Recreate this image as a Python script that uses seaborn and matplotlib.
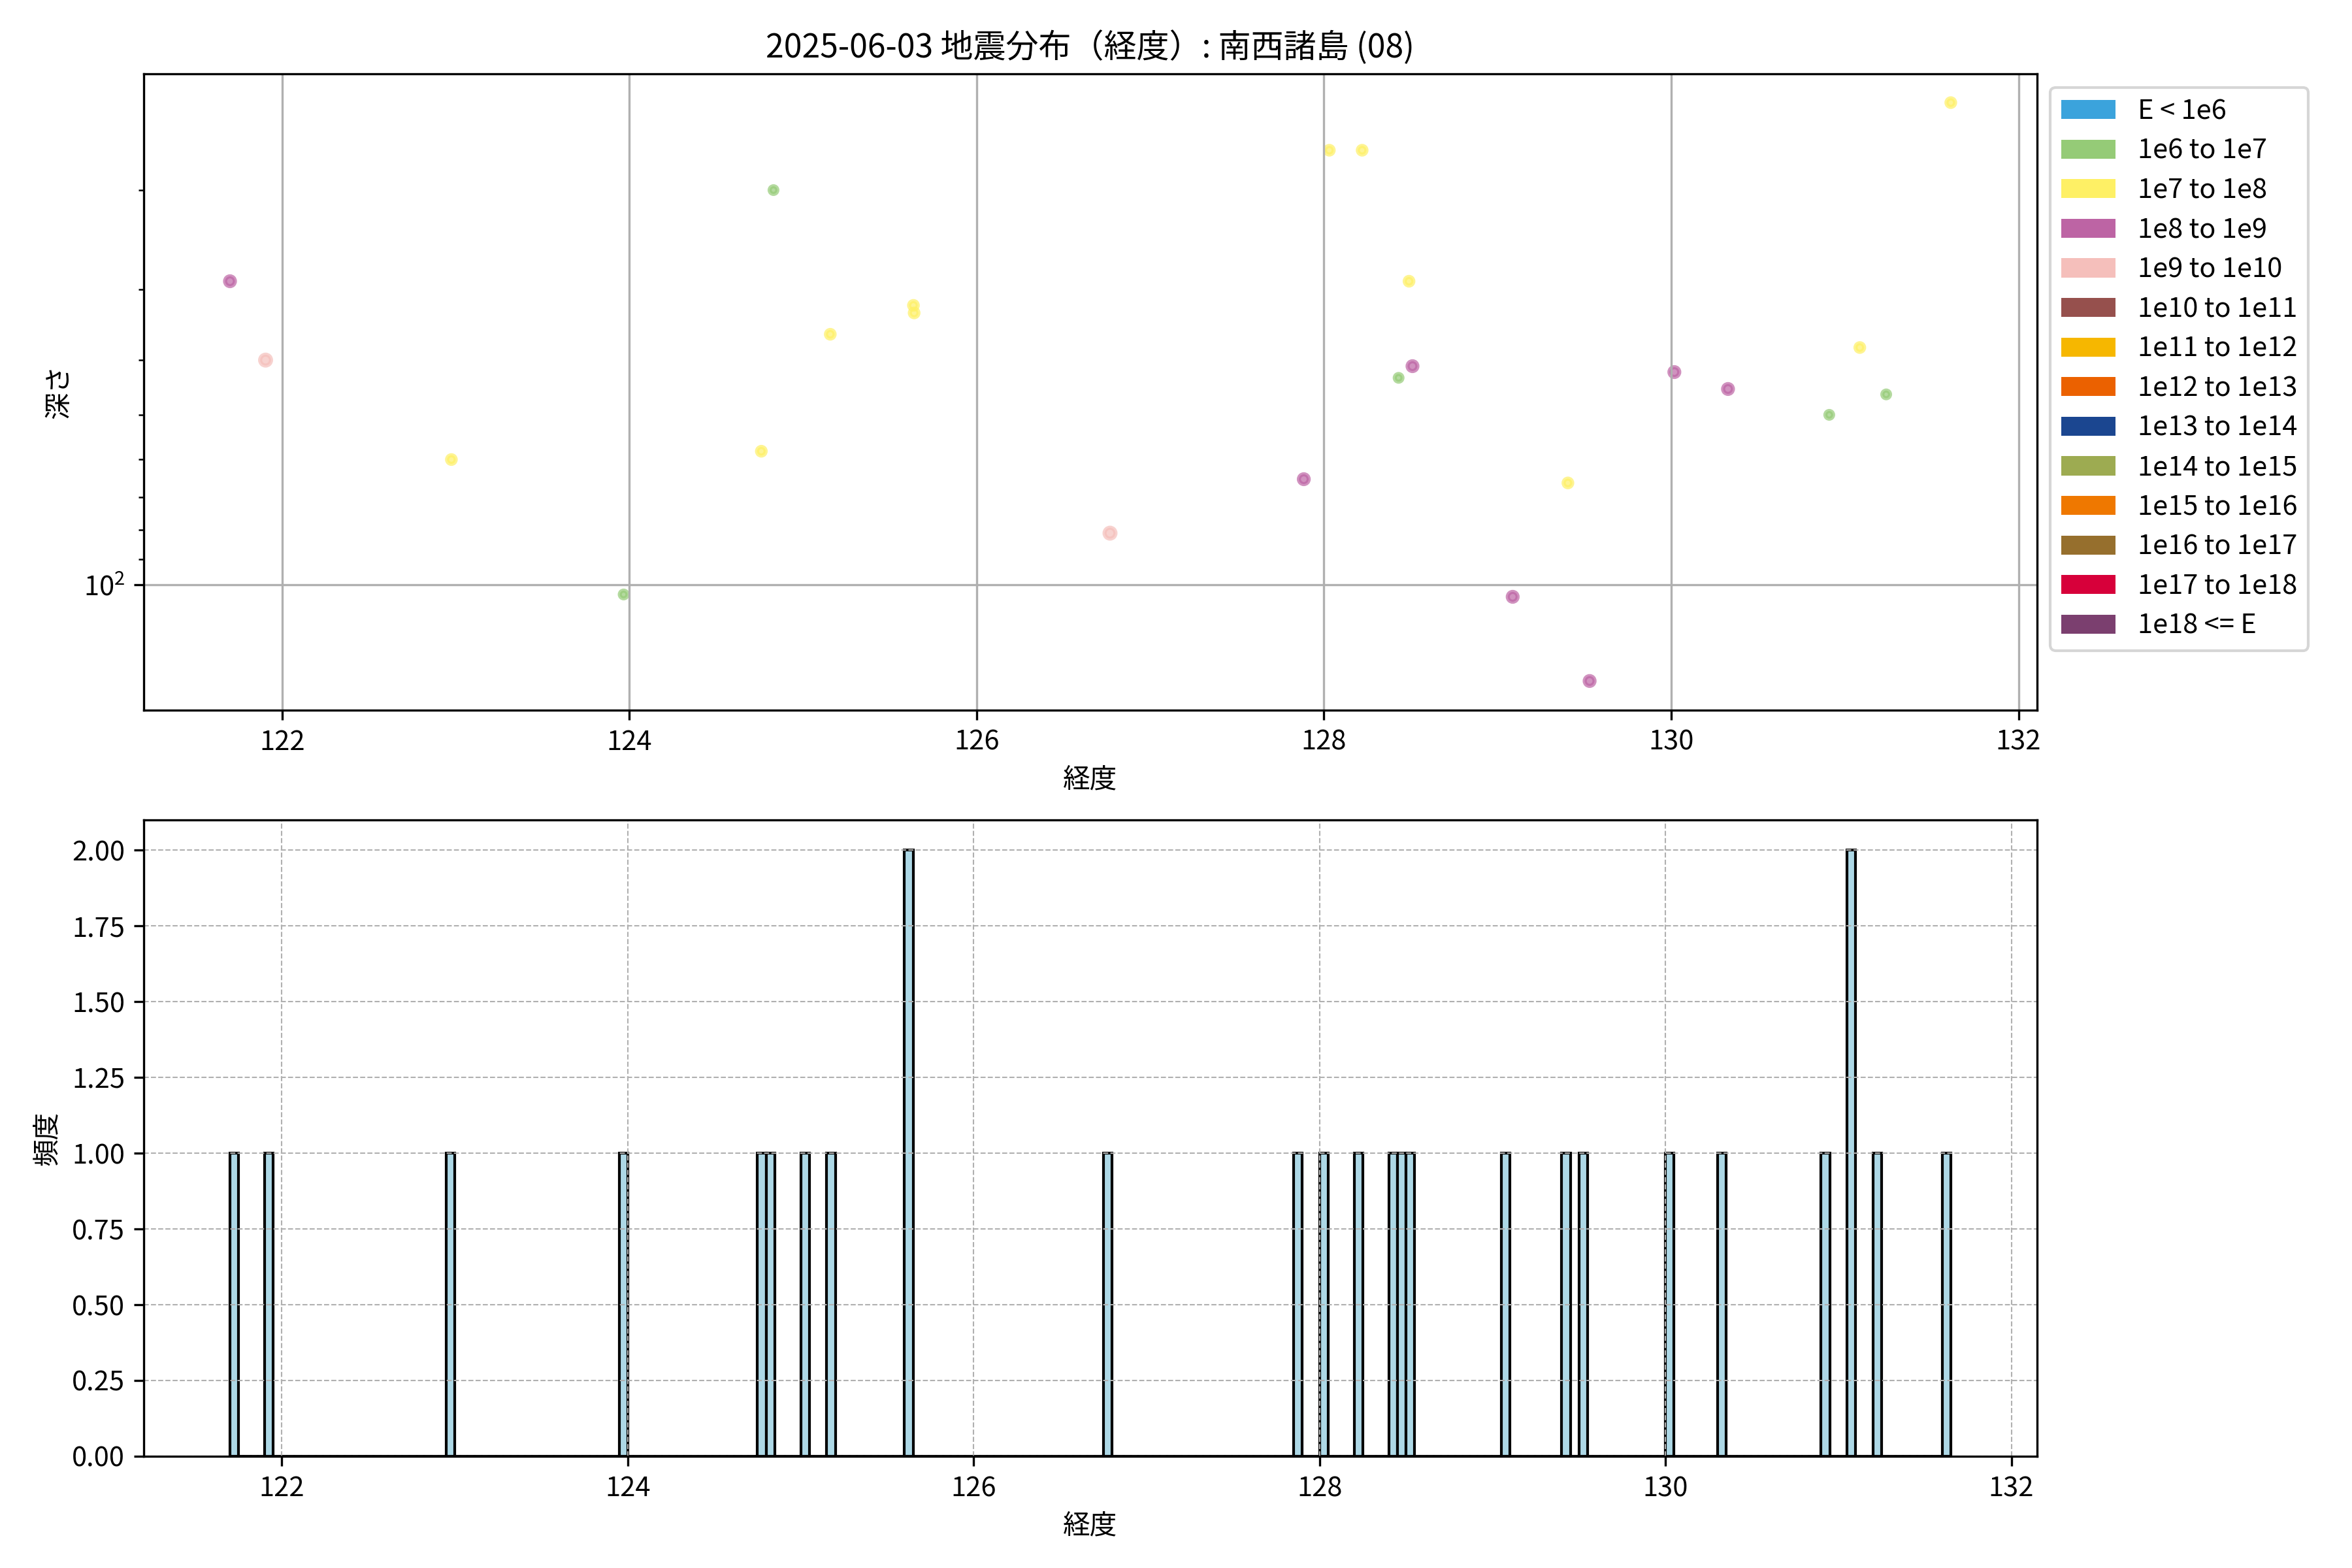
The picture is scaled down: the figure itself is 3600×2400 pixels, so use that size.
import numpy as np
import pandas as pd
import matplotlib
matplotlib.use("Agg")
import matplotlib.pyplot as plt
from matplotlib.patches import Patch
from matplotlib.ticker import FormatStrFormatter
import seaborn as sns

plt.rcParams['font.family'] = ['Noto Sans CJK JP', 'DejaVu Sans']

# energy classes for the legend
energy_labels = ["E < 1e6", "1e6 to 1e7", "1e7 to 1e8", "1e8 to 1e9", "1e9 to 1e10",
                 "1e10 to 1e11", "1e11 to 1e12", "1e12 to 1e13", "1e13 to 1e14",
                 "1e14 to 1e15", "1e15 to 1e16", "1e16 to 1e17", "1e17 to 1e18", "1e18 <= E"]
energy_colors = ["#3ba3dc", "#95cb77", "#fef065", "#bd64a4", "#f5bfbb",
                 "#96504d", "#f6b700", "#eb6100", "#1b4690",
                 "#9dab51", "#ef7800", "#966f2d", "#d7003a", "#7b3f6f"]
energy_sizes = {"1e6 to 1e7": 8, "1e7 to 1e8": 10, "1e8 to 1e9": 13, "1e9 to 1e10": 16}

# events (depth missing for two of them -> only in histogram)
lon = [121.700, 121.905, 122.975, 123.967, 124.760, 124.830, 125.020, 125.157, 125.636, 125.640,
       126.768, 127.884, 128.031, 128.220, 128.430, 128.490, 128.510, 129.087, 129.405, 129.530,
       130.018, 130.327, 130.910, 131.086, 131.070, 131.238, 131.610]
depth = [29, 40, 60, 104, 58, 20, np.nan, 36, 32, 33,
         81, 65, 17, 17, 43, 29, 41, 105, 66, 148,
         42, 45, 50, 38, np.nan, 46, 14]
energy = ["1e8 to 1e9", "1e9 to 1e10", "1e7 to 1e8", "1e6 to 1e7", "1e7 to 1e8", "1e6 to 1e7",
          "1e7 to 1e8", "1e7 to 1e8", "1e7 to 1e8", "1e7 to 1e8",
          "1e9 to 1e10", "1e8 to 1e9", "1e7 to 1e8", "1e7 to 1e8", "1e6 to 1e7", "1e7 to 1e8",
          "1e8 to 1e9", "1e8 to 1e9", "1e7 to 1e8", "1e8 to 1e9",
          "1e8 to 1e9", "1e8 to 1e9", "1e6 to 1e7", "1e7 to 1e8", "1e7 to 1e8", "1e6 to 1e7",
          "1e7 to 1e8"]

# histogram binning (0.05 degree bins)
hist_range = (121.70, 131.65)
hist_bins = 199

df = pd.DataFrame({"lon": lon, "depth": depth, "energy": energy})
palette = dict(zip(energy_labels, energy_colors))

fig, (ax1, ax2) = plt.subplots(2, 1, figsize=(12, 8))
fig.subplots_adjust(left=0.0612, right=0.866, top=0.953, bottom=0.0713, hspace=0.173)

#### SCATTER ####
sns.scatterplot(data=df, x="lon", y="depth", hue="energy", palette=palette,
                size="energy", sizes=energy_sizes, alpha=0.7,
                edgecolor="face", linewidth=1.5, legend=False, ax=ax1)
ax1.set_yscale("log")
ax1.invert_yaxis()
ax1.grid(True)
ax1.set_title("2025-06-03 地震分布（経度）: 南西諸島 (08)", fontsize=12)
ax1.set_xlabel("経度")
ax1.set_ylabel("深さ")
handles = [Patch(facecolor=c, label=l) for l, c in zip(energy_labels, energy_colors)]
ax1.legend(handles=handles, loc="upper left", bbox_to_anchor=(1, 1), fontsize=10,
           labelspacing=0.47)

#### HISTOGRAM ####
sns.histplot(x=df["lon"], bins=hist_bins, binrange=hist_range, color="lightblue",
             edgecolor="black", alpha=1, ax=ax2)
for p in ax2.patches:
    p.set_linewidth(1.0)
ax2.grid(True, linestyle="--", linewidth=0.5)
ax2.set_xlabel("経度")
ax2.set_ylabel("頻度")
ax2.yaxis.set_major_formatter(FormatStrFormatter("%.2f"))

plt.savefig("out.png", dpi=300)
plt.close()
